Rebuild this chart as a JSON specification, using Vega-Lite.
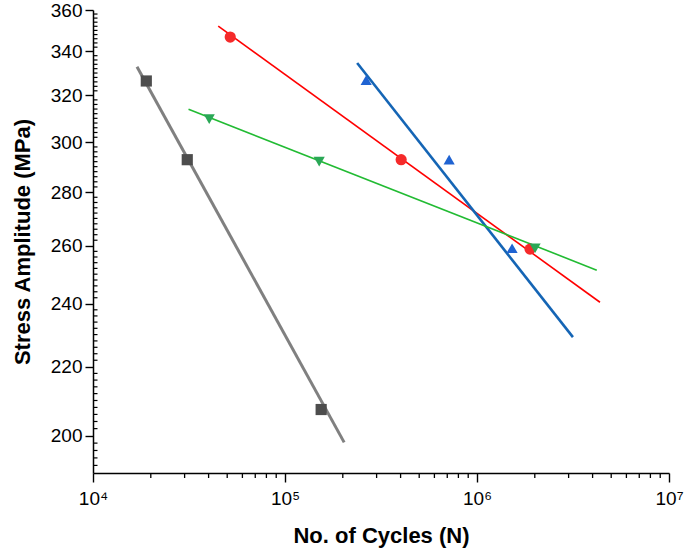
{
  "$schema": "https://vega.github.io/schema/vega-lite/v6.json",
  "width": 576,
  "height": 463,
  "autosize": {"type": "none"},
  "padding": {"left": 93, "top": 10, "right": 16, "bottom": 77},
  "background": "white",
  "config": {
    "font": "Liberation Sans",
    "view": {"stroke": null},
    "axis": {"grid": false, "domainColor": "#000", "tickColor": "#000", "labelColor": "#000", "titleColor": "#000"}
  },
  "datasets": {
    "lines": [
      {"series": "FC", "cycles": 16950, "stress": 332.9},
      {"series": "FC", "cycles": 203300, "stress": 198.2},
      {"series": "AC", "cycles": 44900, "stress": 352.1},
      {"series": "AC", "cycles": 4370000, "stress": 240.5},
      {"series": "OQ", "cycles": 237600, "stress": 334.6},
      {"series": "OQ", "cycles": 3160000, "stress": 229.2},
      {"series": "WQ", "cycles": 31450, "stress": 313.9},
      {"series": "WQ", "cycles": 4205000, "stress": 251.4}
    ],
    "points": [
      {"series": "FC", "cycles": 18950, "stress": 326.4},
      {"series": "FC", "cycles": 30970, "stress": 292.8},
      {"series": "FC", "cycles": 154300, "stress": 207.4},
      {"series": "AC", "cycles": 51840, "stress": 346.8},
      {"series": "AC", "cycles": 402700, "stress": 292.8},
      {"series": "AC", "cycles": 1889000, "stress": 258.8},
      {"series": "OQ", "cycles": 264700, "stress": 326.8},
      {"series": "OQ", "cycles": 716000, "stress": 292.8},
      {"series": "OQ", "cycles": 1523000, "stress": 259.1},
      {"series": "WQ", "cycles": 40310, "stress": 309.7},
      {"series": "WQ", "cycles": 150700, "stress": 292.0},
      {"series": "WQ", "cycles": 2007000, "stress": 259.1}
    ],
    "xminor": [
      {"tick": 20000}, {"tick": 30000}, {"tick": 40000}, {"tick": 50000}, {"tick": 60000}, {"tick": 70000}, {"tick": 80000}, {"tick": 90000},
      {"tick": 200000}, {"tick": 300000}, {"tick": 400000}, {"tick": 500000}, {"tick": 600000}, {"tick": 700000}, {"tick": 800000}, {"tick": 900000},
      {"tick": 2000000}, {"tick": 3000000}, {"tick": 4000000}, {"tick": 5000000}, {"tick": 6000000}, {"tick": 7000000}, {"tick": 8000000}, {"tick": 9000000}
    ],
    "yminor": [
      {"tick": 192}, {"tick": 194}, {"tick": 196}, {"tick": 198},
      {"tick": 202}, {"tick": 204}, {"tick": 206}, {"tick": 208}, {"tick": 210}, {"tick": 212}, {"tick": 214}, {"tick": 216}, {"tick": 218},
      {"tick": 222}, {"tick": 224}, {"tick": 226}, {"tick": 228}, {"tick": 230}, {"tick": 232}, {"tick": 234}, {"tick": 236}, {"tick": 238},
      {"tick": 242}, {"tick": 244}, {"tick": 246}, {"tick": 248}, {"tick": 250}, {"tick": 252}, {"tick": 254}, {"tick": 256}, {"tick": 258},
      {"tick": 262}, {"tick": 264}, {"tick": 266}, {"tick": 268}, {"tick": 270}, {"tick": 272}, {"tick": 274}, {"tick": 276}, {"tick": 278},
      {"tick": 282}, {"tick": 284}, {"tick": 286}, {"tick": 288}, {"tick": 290}, {"tick": 292}, {"tick": 294}, {"tick": 296}, {"tick": 298},
      {"tick": 302}, {"tick": 304}, {"tick": 306}, {"tick": 308}, {"tick": 310}, {"tick": 312}, {"tick": 314}, {"tick": 316}, {"tick": 318},
      {"tick": 322}, {"tick": 324}, {"tick": 326}, {"tick": 328}, {"tick": 330}, {"tick": 332}, {"tick": 334}, {"tick": 336}, {"tick": 338},
      {"tick": 342}, {"tick": 344}, {"tick": 346}, {"tick": 348}, {"tick": 350}, {"tick": 352}, {"tick": 354}, {"tick": 356}, {"tick": 358}
    ]
  },
  "layer": [
    {
      "data": {"name": "lines"},
      "mark": {"type": "line", "clip": false},
      "encoding": {
        "x": {
          "field": "cycles", "type": "quantitative",
          "scale": {"type": "log", "domain": [10000, 10000000], "nice": false},
          "axis": {
            "orient": "bottom",
            "values": [10000, 100000, 1000000, 10000000],
            "labelExpr": "datum.value == 10000 ? '10⁴' : datum.value == 100000 ? '10⁵' : datum.value == 1000000 ? '10⁶' : '10⁷'",
            "labelFontSize": 19, "labelPadding": 7, "tickSize": 9, "tickWidth": 1.4,
            "domainWidth": 1.5, "labelFlush": false,
            "title": "No. of Cycles (N)", "titleFontSize": 22, "titleFontWeight": "bold", "titlePadding": 17
          }
        },
        "y": {
          "field": "stress", "type": "quantitative",
          "scale": {"type": "log", "domain": [190, 360], "nice": false, "zero": false},
          "axis": {
            "orient": "left",
            "values": [200, 220, 240, 260, 280, 300, 320, 340, 360],
            "labelFontSize": 19, "labelPadding": 3, "tickSize": 8, "tickWidth": 1.4,
            "domainWidth": 1.5, "labelFlush": false,
            "title": "Stress Amplitude (MPa)", "titleFontSize": 22, "titleFontWeight": "bold", "titlePadding": 16
          }
        },
        "detail": {"field": "series"},
        "stroke": {
          "field": "series", "type": "nominal",
          "scale": {"domain": ["FC", "AC", "OQ", "WQ"], "range": ["#808080", "#ff0000", "#1565b5", "#22bb33"]},
          "legend": null
        },
        "strokeWidth": {
          "field": "series", "type": "nominal",
          "scale": {"type": "ordinal", "domain": ["FC", "AC", "OQ", "WQ"], "range": [3, 1.6, 2.6, 1.6]},
          "legend": null
        }
      }
    },
    {
      "data": {"name": "points"},
      "mark": {"type": "point", "filled": true, "opacity": 1, "size": 125},
      "encoding": {
        "x": {"field": "cycles", "type": "quantitative", "scale": {"type": "log", "domain": [10000, 10000000], "nice": false}, "axis": null},
        "y": {"field": "stress", "type": "quantitative", "scale": {"type": "log", "domain": [190, 360], "nice": false, "zero": false}, "axis": null},
        "color": {
          "field": "series", "type": "nominal",
          "scale": {"domain": ["FC", "AC", "OQ", "WQ"], "range": ["#4d4d4d", "#f52a2a", "#1f63d2", "#2aa856"]},
          "legend": {
            "title": null, "orient": "none", "legendX": 469, "legendY": 0,
            "strokeColor": "#333", "padding": 6,
            "symbolSize": 120,
            "labelFontSize": 20, "labelOffset": 40, "rowPadding": 7
          }
        },
        "shape": {
          "field": "series", "type": "nominal",
          "scale": {"domain": ["FC", "AC", "OQ", "WQ"], "range": ["square", "circle", "triangle-up", "triangle-down"]},
          "legend": {
            "title": null, "orient": "none", "legendX": 469, "legendY": 0,
            "strokeColor": "#333", "padding": 6,
            "symbolSize": 120,
            "labelFontSize": 20, "labelOffset": 40, "rowPadding": 7
          }
        }
      }
    },
    {
      "data": {"name": "xminor"},
      "mark": {"type": "tick", "orient": "vertical", "size": 5, "thickness": 1.3, "yOffset": 2.5, "color": "#000", "opacity": 1, "clip": false},
      "encoding": {
        "x": {"field": "tick", "type": "quantitative", "scale": {"type": "log", "domain": [10000, 10000000], "nice": false}, "axis": null},
        "y": {"datum": 190, "type": "quantitative", "scale": {"type": "log", "domain": [190, 360], "nice": false, "zero": false}, "axis": null}
      }
    },
    {
      "data": {"name": "yminor"},
      "mark": {"type": "tick", "orient": "horizontal", "size": 4, "thickness": 1.2, "xOffset": 2.5, "color": "#000", "opacity": 1, "clip": false},
      "encoding": {
        "y": {"field": "tick", "type": "quantitative", "scale": {"type": "log", "domain": [190, 360], "nice": false, "zero": false}, "axis": null},
        "x": {"datum": 10000, "type": "quantitative", "scale": {"type": "log", "domain": [10000, 10000000], "nice": false}, "axis": null}
      }
    },
    {
      "mark": {"type": "text", "fontSize": 19, "fontWeight": "bold", "align": "center", "baseline": "middle"},
      "encoding": {
        "x": {"datum": 1206000, "type": "quantitative", "scale": {"type": "log", "domain": [10000, 10000000], "nice": false}, "axis": null},
        "y": {"datum": 352.6, "type": "quantitative", "scale": {"type": "log", "domain": [190, 360], "nice": false, "zero": false}, "axis": null},
        "text": {"value": "R = 0.1"}
      }
    }
  ],
  "resolve": {"axis": {"x": "independent", "y": "independent"}}
}
